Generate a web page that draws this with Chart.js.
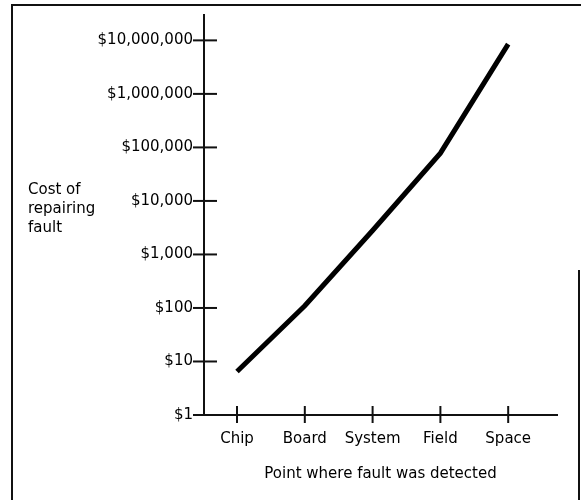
<!DOCTYPE html>
<html>
<head>
<meta charset="utf-8">
<script src="https://cdn.jsdelivr.net/npm/chart.js@4.4.1/dist/chart.umd.min.js"></script>
<style>
    html, body { margin: 0; padding: 0; background: #fff; }
    #wrap { width: 581px; height: 500px; position: relative; }
</style>
</head>
<body>
<div id="wrap"><canvas id="chart"></canvas></div>
<script>
// data
const stages = ['Chip', 'Board', 'System', 'Field', 'Space']
const repairCost = [6.5, 110, 2800, 78000, 8500000]
const yTicks = [1, 10, 100, 1000, 10000, 100000, 1000000, 10000000]
const yTickLabels = ['$1', '$10', '$100', '$1,000', '$10,000', '$100,000', '$1,000,000', '$10,000,000']
const yTitleLines = ['Cost of', 'repairing', 'fault']
const xTitle = 'Point where fault was detected'

const font = { family: 'DejaVu Sans', size: 15 }
Chart.defaults.color = '#000'

// frame, crossing tick marks and the left-hand label
const extras = {
    id: 'extras',
    afterDraw(chart) {
        const ctx = chart.ctx
        const x = chart.scales.x
        const y = chart.scales.y
        ctx.save()
        ctx.strokeStyle = '#111'

        // frame round the figure
        ctx.lineWidth = 2
        ctx.beginPath()
        ctx.moveTo(12, 500)
        ctx.lineTo(12, 5)
        ctx.lineTo(581, 5)
        ctx.stroke()
        ctx.beginPath()
        ctx.moveTo(579, 270)
        ctx.lineTo(579, 500)
        ctx.stroke()

        // tick marks that cross the axes
        ctx.lineWidth = 2
        yTicks.forEach(v => {
            const py = y.getPixelForValue(v)
            ctx.beginPath()
            ctx.moveTo(y.right - 11, py)
            ctx.lineTo(y.right + 13, py)
            ctx.stroke()
        })
        stages.forEach((s, i) => {
            const px = x.getPixelForValue(i)
            ctx.beginPath()
            ctx.moveTo(px, x.top - 9)
            ctx.lineTo(px, x.top + 8)
            ctx.stroke()
        })

        ctx.fillStyle = '#000'
        ctx.font = '15px "DejaVu Sans"'
        ctx.textAlign = 'left'
        ctx.textBaseline = 'middle'
        yTitleLines.forEach((t, i) => ctx.fillText(t, 28, 190 + i * 19))
        ctx.restore()
    }
}

new Chart(document.getElementById('chart'), {
    type: 'line',
    data: {
        datasets: [
            {
                data: stages.map((s, i) => ({ x: i, y: repairCost[i] })),
                borderColor: '#000',
                borderWidth: 5,
                pointRadius: 0,
                tension: 0,
                clip: false,
            },
        ],
    },
    options: {
        responsive: true,
        maintainAspectRatio: false,
        animation: false,
        layout: { padding: { top: 15, right: 24, bottom: 0, left: 0 } },
        plugins: { legend: { display: false }, tooltip: { enabled: false } },
        scales: {
            x: {
                type: 'linear',
                min: -0.487,
                max: 4.72,
                grid: { display: false },
                border: { display: true, color: '#111', width: 2 },
                afterBuildTicks: scale => {
                    scale.ticks = stages.map((s, i) => ({ value: i }))
                },
                afterFit: scale => {
                    scale.height = 85
                },
                ticks: {
                    font: font,
                    padding: 7,
                    maxRotation: 0,
                    callback: v => stages[v],
                },
                title: {
                    display: true,
                    text: xTitle,
                    font: font,
                    padding: { top: 0, bottom: 17 },
                },
            },
            y: {
                type: 'logarithmic',
                min: 1,
                max: 29800000,
                grid: { display: false },
                border: { display: true, color: '#111', width: 2 },
                afterBuildTicks: scale => {
                    scale.ticks = yTicks.map(v => ({ value: v, major: true }))
                },
                afterFit: scale => {
                    scale.width = 204
                },
                ticks: {
                    font: font,
                    padding: 3,
                    callback: v => yTickLabels[yTicks.indexOf(v)],
                },
            },
        },
    },
    plugins: [extras],
})
</script>
</body>
</html>
